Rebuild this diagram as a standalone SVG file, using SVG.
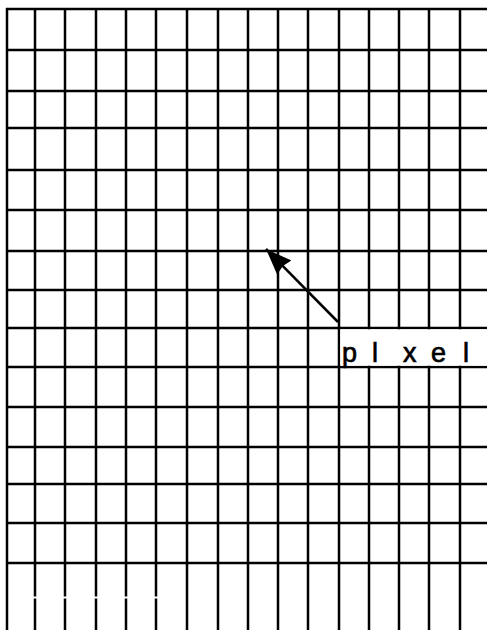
<svg xmlns="http://www.w3.org/2000/svg" width="487" height="630" viewBox="0 0 487 630">
<defs>
<style>
.g line{stroke:#000;stroke-width:2.5;}
.lbl{font-family:"Liberation Sans",Arial,sans-serif;font-size:27px;fill:#000;stroke:#000;stroke-width:0.7;}
</style>
<marker id="ah" viewBox="0 0 26 20" refX="26" refY="10" markerWidth="26" markerHeight="20" markerUnits="userSpaceOnUse" orient="auto">
<path d="M0,0 L26,10 L0,20 L2,10 z" fill="#000"/>
</marker>
</defs>
<rect width="487" height="630" fill="#fff"/>
<g id="grid" class="g">
<line x1="7" y1="8" x2="7" y2="630"/>
<line x1="35" y1="8" x2="35" y2="630"/>
<line x1="65" y1="8" x2="65" y2="630"/>
<line x1="96" y1="8" x2="96" y2="630"/>
<line x1="126" y1="8" x2="126" y2="630"/>
<line x1="156" y1="8" x2="156" y2="630"/>
<line x1="187" y1="8" x2="187" y2="630"/>
<line x1="218" y1="8" x2="218" y2="630"/>
<line x1="248" y1="8" x2="248" y2="630"/>
<line x1="278" y1="8" x2="278" y2="630"/>
<line x1="308" y1="8" x2="308" y2="630"/>
<line x1="339" y1="8" x2="339" y2="630"/>
<line x1="369" y1="8" x2="369" y2="630"/>
<line x1="399" y1="8" x2="399" y2="630"/>
<line x1="429" y1="8" x2="429" y2="630"/>
<line x1="460" y1="8" x2="460" y2="630"/>
<line x1="6" y1="9" x2="487" y2="9"/>
<line x1="6" y1="50" x2="487" y2="50"/>
<line x1="6" y1="91" x2="487" y2="91"/>
<line x1="6" y1="128" x2="487" y2="128"/>
<line x1="6" y1="170" x2="487" y2="170"/>
<line x1="6" y1="210" x2="487" y2="210"/>
<line x1="6" y1="251" x2="487" y2="251"/>
<line x1="6" y1="290" x2="487" y2="290"/>
<line x1="6" y1="328" x2="487" y2="328"/>
<line x1="6" y1="367" x2="487" y2="367"/>
<line x1="6" y1="407" x2="487" y2="407"/>
<line x1="6" y1="447" x2="487" y2="447"/>
<line x1="6" y1="484" x2="487" y2="484"/>
<line x1="6" y1="523" x2="487" y2="523"/>
<line x1="6" y1="563" x2="487" y2="563"/>
</g>
<rect x="30" y="596.5" width="130" height="2" fill="#fff"/>
<g id="label">
<rect x="340.3" y="329.3" width="147" height="36.4" fill="#fff"/>
<text class="lbl" x="342 372 403 431 463" y="362">plxel</text>
</g>
<g id="connectors">
<line x1="338" y1="322" x2="266" y2="249" stroke="#000" stroke-width="2.5" marker-end="url(#ah)"/>
</g>
</svg>
